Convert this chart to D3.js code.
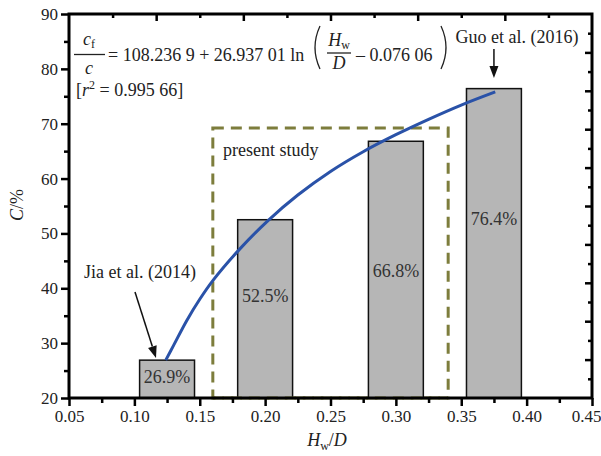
<!DOCTYPE html>
<html>
<head>
<meta charset="utf-8">
<script src="https://cdn.jsdelivr.net/npm/d3@7/dist/d3.min.js"></script>
<style>
  body { margin: 0; background: #fff; }
  svg text { font-family: "Liberation Serif", "Times New Roman", serif; fill: #222; }
</style>
</head>
<body>
<div id="chart"></div>
<script>
// 数据
const hwdValues = [0.125, 0.2, 0.3, 0.375];
const cValues = [26.9, 52.5, 66.8, 76.4];
const xTickValues = [0.05, 0.10, 0.15, 0.20, 0.25, 0.30, 0.35, 0.40, 0.45];
const yTickValues = [20, 30, 40, 50, 60, 70, 80, 90];
// 拟合曲线上读出的点
const fitHwd = [0.124, 0.13, 0.14, 0.15, 0.16, 0.18, 0.202, 0.225, 0.25, 0.275, 0.3, 0.325, 0.35, 0.376];
const fitC = [26.9, 29.6, 34.1, 38.0, 41.4, 47.0, 52.3, 57.0, 61.3, 64.9, 68.0, 70.8, 73.4, 75.8];

const width = 601, height = 456;
const margin = { top: 14, right: 9, bottom: 58, left: 69 };
const barHalf = 0.021;
// 柱内标签基线（y 轴数值）
const labelBase = [22.7, 37.5, 42.1, 51.5];

const svg = d3.select('#chart').append('svg')
  .attr('width', width)
  .attr('height', height);

const x = d3.scaleLinear().domain([0.05, 0.45]).range([margin.left, width - margin.right]);
const y = d3.scaleLinear().domain([20, 90]).range([height - margin.bottom, margin.top]);
// 顶部、右侧轴刻度独立
const xTop = d3.scaleLinear().domain([0, 6]).range([margin.left, width - margin.right]);
const yRight = d3.scaleLinear().domain([0, 10]).range([height - margin.bottom, margin.top]);

const boxColor = '#7d7d3c';

// 虚线框 present study
svg.append('rect')
  .attr('x', x(0.16))
  .attr('y', y(69.2))
  .attr('width', x(0.34) - x(0.16))
  .attr('height', y(20) - y(69.2))
  .attr('fill', 'none')
  .attr('stroke', boxColor)
  .attr('stroke-width', 3)
  .attr('stroke-dasharray', '11,7');

// 柱子
svg.selectAll('.bar')
  .data(hwdValues)
  .enter()
  .append('rect')
  .attr('class', 'bar')
  .attr('x', d => x(d - barHalf))
  .attr('y', (d, i) => y(cValues[i]))
  .attr('width', d => x(d + barHalf) - x(d - barHalf))
  .attr('height', (d, i) => y(20) - y(cValues[i]))
  .attr('fill', '#b6b6b6')
  .attr('stroke', '#111')
  .attr('stroke-width', 1.5);

// 柱内百分比
svg.selectAll('.bar-label')
  .data(hwdValues)
  .enter()
  .append('text')
  .attr('class', 'bar-label')
  .attr('x', d => x(d))
  .attr('y', (d, i) => y(labelBase[i]))
  .attr('text-anchor', 'middle')
  .style('font-size', '18px')
  .style('fill', '#333')
  .text((d, i) => cValues[i] + '%');

// 虚线框底边压在柱子上
svg.append('line')
  .attr('x1', x(0.16)).attr('x2', x(0.34))
  .attr('y1', y(20)).attr('y2', y(20))
  .attr('stroke', boxColor)
  .attr('stroke-width', 3)
  .attr('stroke-dasharray', '11,7');

// 拟合曲线
const line = d3.line()
  .x(d => x(d[0]))
  .y(d => y(d[1]))
  .curve(d3.curveCatmullRom);

svg.append('path')
  .datum(fitHwd.map((d, i) => [d, fitC[i]]))
  .attr('d', line)
  .attr('fill', 'none')
  .attr('stroke', '#2a52a8')
  .attr('stroke-width', 3);

// 坐标轴
const axisColor = '#000';
function styleAxis(g) {
  g.select('.domain').remove();
  g.selectAll('.tick line').attr('stroke', axisColor).attr('stroke-width', 2.5);
  g.selectAll('.tick text').style('font-size', '17px').style('fill', '#222');
}

const xMinor = d3.range(0.075, 0.45, 0.05);
const yMinor = d3.range(25, 90, 10);

svg.append('g')
  .attr('transform', `translate(0,${y(20)})`)
  .call(d3.axisBottom(x).tickValues(xMinor).tickSize(5).tickFormat(''))
  .call(styleAxis);
svg.append('g')
  .attr('transform', `translate(0,${y(20)})`)
  .call(d3.axisBottom(x).tickValues(xTickValues).tickSize(8).tickPadding(4).tickFormat(d3.format('.2f')))
  .call(styleAxis)
  .call(g => g.selectAll('.tick text').filter(d => d === 0.45).attr('dx', -6));

svg.append('g')
  .attr('transform', `translate(${x(0.05)},0)`)
  .call(d3.axisLeft(y).tickValues(yMinor).tickSize(5).tickFormat(''))
  .call(styleAxis);
svg.append('g')
  .attr('transform', `translate(${x(0.05)},0)`)
  .call(d3.axisLeft(y).tickValues(yTickValues).tickSize(8).tickPadding(3).tickFormat(d3.format('d')))
  .call(styleAxis);

// 顶部轴（刻度向内）
svg.append('g')
  .attr('transform', `translate(0,${y(90)})`)
  .call(d3.axisBottom(xTop).tickValues(d3.range(1, 6)).tickSize(7).tickFormat(''))
  .call(styleAxis);
svg.append('g')
  .attr('transform', `translate(0,${y(90)})`)
  .call(d3.axisBottom(xTop).tickValues(d3.range(0.5, 6, 1)).tickSize(4).tickFormat(''))
  .call(styleAxis);

// 右侧轴（刻度向内）
svg.append('g')
  .attr('transform', `translate(${x(0.45)},0)`)
  .call(d3.axisLeft(yRight).tickValues(d3.range(1, 10)).tickSize(7).tickFormat(''))
  .call(styleAxis);
svg.append('g')
  .attr('transform', `translate(${x(0.45)},0)`)
  .call(d3.axisLeft(yRight).tickValues(d3.range(0.5, 10, 1)).tickSize(4).tickFormat(''))
  .call(styleAxis);

// 外框
svg.append('rect')
  .attr('x', x(0.05))
  .attr('y', y(90))
  .attr('width', x(0.45) - x(0.05))
  .attr('height', y(20) - y(90))
  .attr('fill', 'none')
  .attr('stroke', axisColor)
  .attr('stroke-width', 3);

// 轴标题
const xTitle = svg.append('text')
  .attr('x', 327)
  .attr('y', 446)
  .attr('text-anchor', 'middle')
  .style('font-size', '18px');
xTitle.append('tspan').style('font-style', 'italic').text('H');
xTitle.append('tspan').attr('dy', 4).style('font-size', '12px').text('w');
xTitle.append('tspan').attr('dy', -4).text('/');
xTitle.append('tspan').style('font-style', 'italic').text('D');

const yTitle = svg.append('text')
  .attr('transform', 'translate(23,205) rotate(-90)')
  .attr('text-anchor', 'middle')
  .style('font-size', '18px');
yTitle.append('tspan').style('font-style', 'italic').text('C');
yTitle.append('tspan').text('/%');

// 公式
const fs = '18px';
svg.append('text').attr('x', 89).attr('y', 45).attr('text-anchor', 'middle').style('font-size', fs)
  .call(t => {
    t.append('tspan').style('font-style', 'italic').text('c');
    t.append('tspan').attr('dy', 3).style('font-size', '12px').text('f');
  });
svg.append('line').attr('x1', 74).attr('x2', 105).attr('y1', 54.5).attr('y2', 54.5)
  .attr('stroke', '#222').attr('stroke-width', 1.3);
svg.append('text').attr('x', 89).attr('y', 74).attr('text-anchor', 'middle').style('font-size', fs)
  .style('font-style', 'italic').text('c');
svg.append('text').attr('x', 108).attr('y', 61).style('font-size', fs)
  .text('= 108.236 9 + 26.937 01 ln');

// 括号
svg.append('path').attr('d', 'M320,26 Q310,47.5 320,69').attr('fill', 'none').attr('stroke', '#222').attr('stroke-width', 1.3);
svg.append('path').attr('d', 'M441,26 Q451,47.5 441,69').attr('fill', 'none').attr('stroke', '#222').attr('stroke-width', 1.3);

svg.append('text').attr('x', 339).attr('y', 46).attr('text-anchor', 'middle').style('font-size', fs)
  .call(t => {
    t.append('tspan').style('font-style', 'italic').text('H');
    t.append('tspan').attr('dy', 3).style('font-size', '12px').text('w');
  });
svg.append('line').attr('x1', 327).attr('x2', 351).attr('y1', 53).attr('y2', 53)
  .attr('stroke', '#222').attr('stroke-width', 1.3);
svg.append('text').attr('x', 339).attr('y', 69).attr('text-anchor', 'middle').style('font-size', fs)
  .style('font-style', 'italic').text('D');
svg.append('text').attr('x', 356).attr('y', 61).style('font-size', fs)
  .text('– 0.076 06');

svg.append('text').attr('x', 76).attr('y', 96).style('font-size', fs)
  .call(t => {
    t.append('tspan').text('[');
    t.append('tspan').style('font-style', 'italic').text('r');
    t.append('tspan').attr('dy', -7).style('font-size', '12px').text('2');
    t.append('tspan').attr('dy', 7).text(' = 0.995 66]');
  });

// 注释文字
svg.append('text').attr('x', 517).attr('y', 43).attr('text-anchor', 'middle').style('font-size', fs)
  .text('Guo et al. (2016)');
svg.append('text').attr('x', 140).attr('y', 278).attr('text-anchor', 'middle').style('font-size', fs)
  .text('Jia et al. (2014)');
svg.append('text').attr('x', 223).attr('y', 156).style('font-size', fs)
  .text('present study');

// 箭头
function arrow(x1, y1, x2, y2) {
  const ang = Math.atan2(y2 - y1, x2 - x1);
  const len = 12, half = 4.5;
  const bx = x2 - len * Math.cos(ang), by = y2 - len * Math.sin(ang);
  svg.append('line').attr('x1', x1).attr('y1', y1).attr('x2', bx).attr('y2', by)
    .attr('stroke', '#111').attr('stroke-width', 1.5);
  const px = -Math.sin(ang) * half, py = Math.cos(ang) * half;
  svg.append('path')
    .attr('d', `M${x2},${y2} L${bx + px},${by + py} L${bx - px},${by - py} Z`)
    .attr('fill', '#111');
}
arrow(x(0.375), 49, x(0.375), 78);
arrow(135, 292, 156, 358);
</script>
</body>
</html>
